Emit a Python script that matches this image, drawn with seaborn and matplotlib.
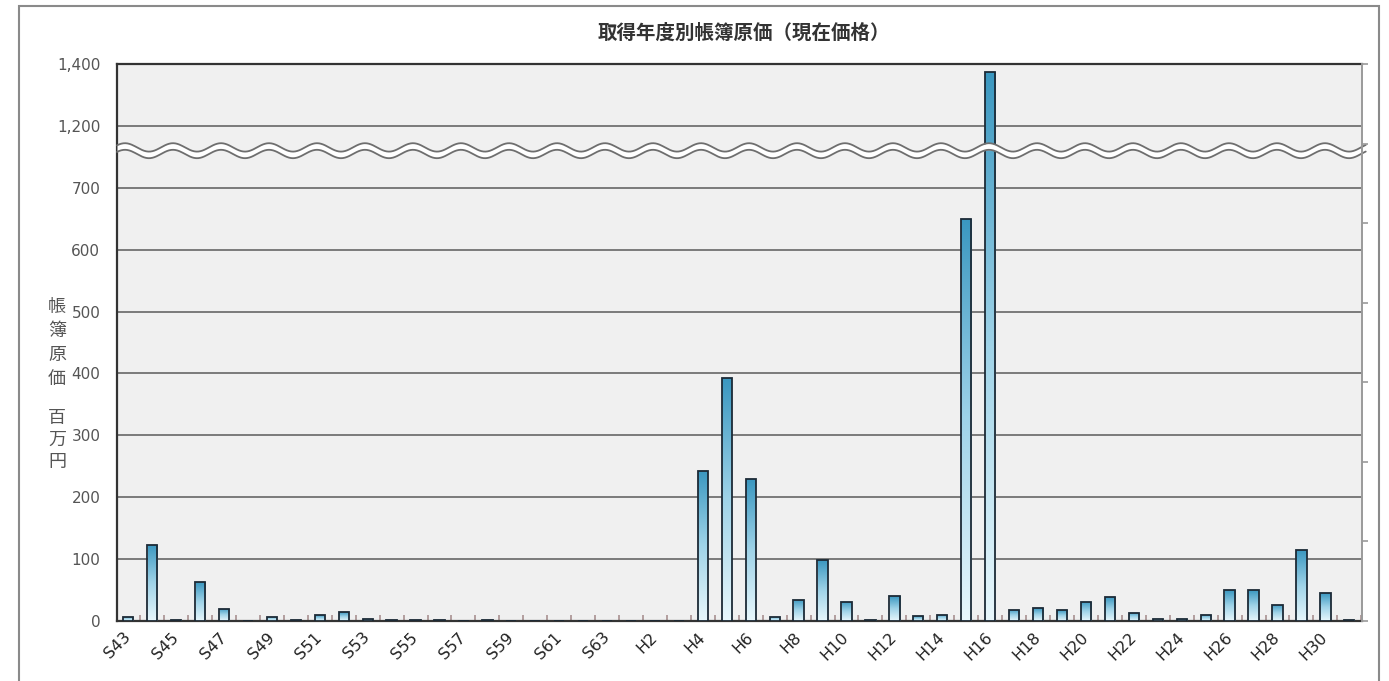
import numpy as np
import pandas as pd
import matplotlib
matplotlib.use("Agg")
import matplotlib.pyplot as plt
import seaborn as sns
from matplotlib.patches import Rectangle
from matplotlib.colors import LinearSegmentedColormap

# ---------------- data ----------------
categories = ["S43", "S44", "S45", "S46", "S47", "S48", "S49", "S50", "S51", "S52",
              "S53", "S54", "S55", "S56", "S57", "S58", "S59", "S60", "S61", "S62",
              "S63", "H1", "H2", "H3", "H4", "H5", "H6", "H7", "H8", "H9",
              "H10", "H11", "H12", "H13", "H14", "H15", "H16", "H17", "H18", "H19",
              "H20", "H21", "H22", "H23", "H24", "H25", "H26", "H27", "H28", "H29",
              "H30", "H31"]
values = [7, 123, 1, 63, 20, 0, 7, 1, 9, 14,
          3, 2, 1, 1, 0, 1, 0, 0, 0, 0,
          0, 0, 0, 0, 243, 392, 229, 7, 34, 98,
          31, 1, 40, 8, 10, 650, 1375, 18, 21, 17,
          31, 38, 13, 4, 3, 10, 50, 50, 26, 114,
          45, 1]
xtick_labels = ["S43", "S45", "S47", "S49", "S51", "S53", "S55", "S57", "S59", "S61",
                "S63", "H2", "H4", "H6", "H8", "H10", "H12", "H14", "H16", "H18",
                "H20", "H22", "H24", "H26", "H28", "H30"]
ytick_values = [0, 100, 200, 300, 400, 500, 600, 700, 1200, 1400]
ytick_labels = ["0", "100", "200", "300", "400", "500", "600", "700", "1,200", "1,400"]
title = "取得年度別帳簿原価（現在価格）"
ylabel_top = "帳簿原価"
ylabel_bottom = "百万円"

# broken axis: 0..700 linear, 700..1200 squeezed into one step, 1200..1400 one step
BREAKS = [0, 700, 1200, 1400]
DISPLAY = [0, 700, 800, 900]


def fwd(v):
    return np.interp(np.asarray(v, dtype=float), BREAKS, DISPLAY)


def inv(d):
    return np.interp(np.asarray(d, dtype=float), DISPLAY, BREAKS)


df = pd.DataFrame({"year": categories, "value": values})

sns.set_theme(style="white")
plt.rcParams["font.family"] = ["DejaVu Sans", "Noto Sans CJK JP"]
cjk = ["Noto Sans CJK JP", "DejaVu Sans"]

W, H = 1389, 681
fig = plt.figure(figsize=(W / 100, H / 100), dpi=100)
fig.patch.set_facecolor("white")
ax = fig.add_axes([117 / W, 1 - 621 / H, (1362 - 117) / W, (621 - 64) / H])
ax.set_facecolor("#f0f0f0")

sns.barplot(data=df, x="year", y="value", order=categories, width=0.43,
            color="#3a97c0", edgecolor="#1c2a36", linewidth=1.3, ax=ax,
            zorder=3)

ax.set_yscale("function", functions=(fwd, inv))
ax.set_ylim(0, 1400)
ax.set_xlim(-0.47, len(categories) - 0.47)

ax.set_yticks(ytick_values)
ax.set_yticklabels(ytick_labels)
ax.yaxis.set_minor_locator(matplotlib.ticker.NullLocator())
ax.tick_params(axis="y", length=0, pad=12, labelsize=11, labelcolor="#555555")
ax.yaxis.grid(True, color="#7a7a7a", linewidth=1.4, zorder=1)
ax.set_axisbelow(True)

ax.set_xticks(range(0, len(categories), 2))
ax.set_xticklabels(xtick_labels, rotation=45, ha="right", va="center",
                   rotation_mode="anchor", fontsize=11.5, color="#222222")
ax.set_xticks(np.arange(-0.5, len(categories), 1), minor=True)
ax.tick_params(axis="x", which="major", length=0, pad=10)
ax.tick_params(axis="x", which="minor", length=4, direction="in",
               color="#a89090", width=1.2, bottom=True)
ax.set_xlabel("")
ax.set_ylabel("")

for side in ["left", "bottom", "top"]:
    ax.spines[side].set_visible(True)
    ax.spines[side].set_color("#333333")
    ax.spines[side].set_linewidth(1.6)
ax.spines["right"].set_visible(False)

# gradient fill for bars
cmap = LinearSegmentedColormap.from_list("bar", ["#e8f7fc", "#9fd3e8", "#3a97c0"])
grad = np.linspace(0, 1, 256).reshape(-1, 1)
to_axes = ax.transAxes.inverted()
for bar in ax.patches:
    if bar.get_height() <= 0:
        continue
    bb = bar.get_window_extent()
    (x0, y0), (x1, y1) = to_axes.transform([[bb.x0, bb.y0], [bb.x1, bb.y1]])
    im = ax.imshow(grad, cmap=cmap, origin="lower", aspect="auto",
                   extent=[x0, x1, y0, y1], transform=ax.transAxes,
                   zorder=3.5, interpolation="bilinear")
    im.set_clip_path(bar)
    bar.set_facecolor("none")
    bar.set_zorder(4)

ax.set_xlim(-0.47, len(categories) - 0.47)
ax.set_ylim(0, 1400)

# wavy break marks
axw = 1362 - 117
axh = 621 - 64
xs = np.linspace(0, 1.003, 1200)
period = 48 / axw
x_peak = (125 - 117) / axw
amp = 4.2 / axh
center = (621 - 150.7) / axh
sep = 3.3 / axh
wave = amp * np.cos(2 * np.pi * (xs - x_peak) / period)
upper = center + sep + wave
lower = center - sep + wave
ax.fill_between(xs, lower, upper, transform=ax.transAxes, color="white",
                zorder=6, clip_on=False, linewidth=0)
ax.plot(xs, upper, transform=ax.transAxes, color="#6e6e6e", lw=1.3,
        zorder=7, clip_on=False)
ax.plot(xs, lower, transform=ax.transAxes, color="#6e6e6e", lw=1.3,
        zorder=7, clip_on=False)

# right-side tick marks (secondary axis)
ax2 = ax.twinx()
ax2.set_ylim(0, 7)
ax2.set_yticks(range(8))
ax2.set_yticklabels([])
ax2.tick_params(axis="y", right=True, length=4, direction="out",
                color="#999999", width=1.2)
for side in ["left", "bottom", "top"]:
    ax2.spines[side].set_visible(False)
ax2.spines["right"].set_visible(True)
ax2.spines["right"].set_color("#9a9a9a")
ax2.spines["right"].set_linewidth(1.4)
ax2.grid(False)

# title and y label
fig.text(744 / W, 1 - 33 / H, title, ha="center", va="center", fontsize=14,
         fontweight="bold", color="#333333", family=cjk)
for i, ch in enumerate(ylabel_top):
    fig.text(57 / W, 1 - (307 + 24 * i) / H, ch, ha="center", va="center",
             fontsize=13, color="#555555", family=cjk)
for i, ch in enumerate(ylabel_bottom):
    fig.text(57 / W, 1 - (418 + 22 * i) / H, ch, ha="center", va="center",
             fontsize=13, color="#555555", family=cjk)

# outer frame
fig.patches.append(Rectangle((19 / W, -0.2), (1379 - 19) / W, 1.2 - 6 / H,
                             transform=fig.transFigure, fill=False,
                             edgecolor="#8a8a8a", linewidth=1.5))

fig.savefig("out.png", dpi=100, facecolor="white")
